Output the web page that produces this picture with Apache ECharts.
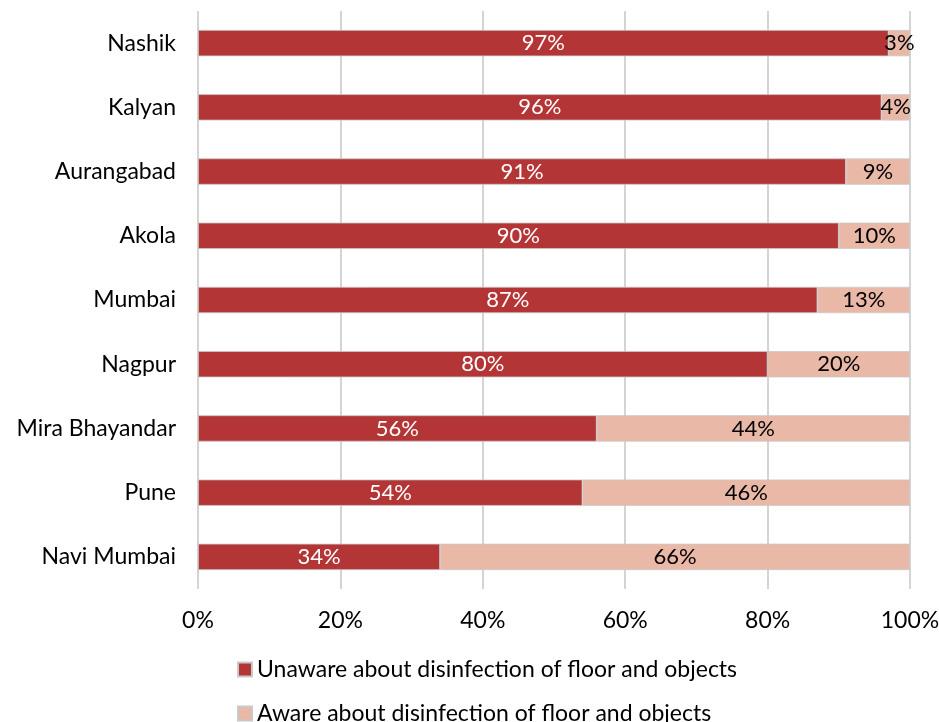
<!DOCTYPE html>
<html style="height: 100%">
<head>
    <meta charset="utf-8">
    <script type="text/javascript" src="https://cdn.jsdelivr.net/npm/echarts@6/dist/echarts.min.js"></script>
</head>
<body style="height: 100%; margin: 0; background: #fff; overflow: hidden">
    <div id="chart" style="height: 722px; width: 939px;"></div>
    <script type="text/javascript">
        // cities listed bottom -> top (category axis starts at bottom)
        var cities = ['Navi Mumbai', 'Pune', 'Mira Bhayandar', 'Nagpur', 'Mumbai', 'Akola', 'Aurangabad', 'Kalyan', 'Nashik'];
        var unaware = [34, 54, 56, 80, 87, 90, 91, 96, 97];
        var aware = [66, 46, 44, 20, 13, 10, 9, 4, 3];
        var seriesNames = ['Unaware about disinfection of floor and objects', 'Aware about disinfection of floor and objects'];
        var xTicks = ['0%', '20%', '40%', '60%', '80%', '100%'];

        var font = 'Lato, "Open Sans", sans-serif';
        var chart = echarts.init(document.getElementById('chart'));

        // one legend block per row
        function legendRow(name, top) {
            return {
                left: 232,
                top: top,
                itemWidth: 14,
                itemHeight: 14,
                icon: 'rect',
                textStyle: { fontSize: 23, color: '#000', fontFamily: font },
                data: [name]
            };
        }

        var option = {
            animation: false,
            textStyle: { fontFamily: font },
            grid: { left: 198, right: 29, top: 11, height: 578, containLabel: false, outerBoundsMode: 'none' },
            xAxis: {
                type: 'value',
                min: 0,
                max: 100,
                interval: 20,
                axisLine: { show: false },
                axisTick: { show: false },
                splitLine: { lineStyle: { color: '#c6c6c6', width: 1.5 } },
                axisLabel: {
                    margin: 20,
                    fontSize: 23,
                    color: '#000',
                    fontFamily: font,
                    formatter: function (v) { return xTicks[v / 20]; }
                }
            },
            yAxis: {
                type: 'category',
                data: cities,
                axisLine: { show: false },
                axisTick: { show: false },
                axisLabel: { fontSize: 23, color: '#000', margin: 22, fontFamily: font }
            },
            legend: [legendRow(seriesNames[0], 653), legendRow(seriesNames[1], 697)],
            series: [
                {
                    name: seriesNames[0],
                    type: 'bar',
                    stack: 'total',
                    barCategoryGap: '59%',
                    data: unaware,
                    itemStyle: { color: '#b43536', borderColor: '#c9c9c9', borderWidth: 0.8 },
                    label: {
                        show: true,
                        position: 'inside',
                        color: '#fff',
                        fontSize: 22,
                        fontFamily: font,
                        formatter: '{c}%'
                    }
                },
                {
                    name: seriesNames[1],
                    type: 'bar',
                    stack: 'total',
                    barCategoryGap: '59%',
                    data: aware,
                    itemStyle: { color: '#eab8a6', borderColor: '#c9c9c9', borderWidth: 0.8 },
                    label: {
                        show: true,
                        position: 'inside',
                        color: '#000',
                        fontSize: 22,
                        fontFamily: font,
                        formatter: '{c}%'
                    }
                }
            ]
        };

        chart.setOption(option);
    </script>
</body>
</html>
